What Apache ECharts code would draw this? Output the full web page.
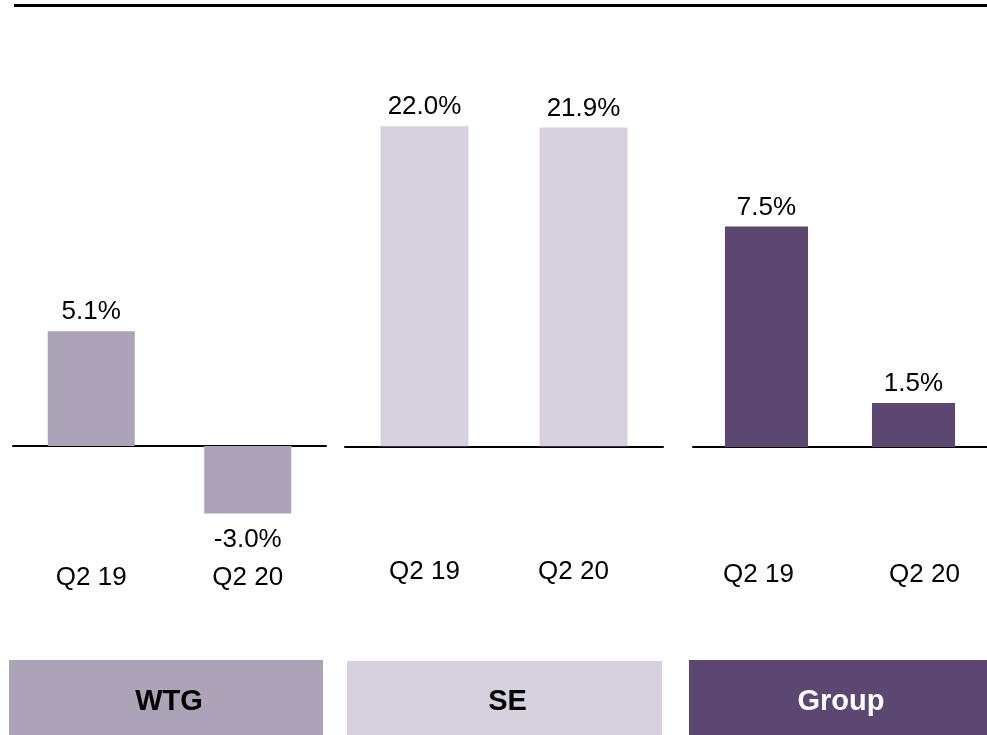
<!DOCTYPE html>
<html lang="en">
<head>
    <meta charset="UTF-8" />
    <title>WTG / SE / Group margins</title>
    <script src="https://cdn.jsdelivr.net/npm/echarts@6/dist/echarts.min.js"></script>
    <style>
        body { margin: 0; background: #fff; }
        #chart { width: 987px; height: 735px; }
    </style>
</head>
<body>
<div id="chart"></div>
<script>
    // data
    const categories = ['Q2 19', 'Q2 20'];
    const segmentNames = ['WTG', 'SE', 'Group'];
    const wtgValues = [5.1, -3.0];
    const seValues = [22.0, 21.9];
    const groupValues = [7.5, 1.5];

    const FONT = '"Liberation Sans", Arial, sans-serif';

    // one panel per segment, each with its own scale
    // (category labels sit below the grid bottom, margin counted from there)
    const panels = [
        { values: wtgValues, color: '#aca3b9', textColor: '#000', left: 13, width: 313, top: 108.5, height: 450, min: -5, max: 15,
          barWidth: 87, labelMargin: 6, labelShift: [0, 0], box: [9, 660, 314, 75] },
        { values: seValues, color: '#d7d1df', textColor: '#000', left: 345, width: 318, top: 82.5, height: 436.5, min: -5, max: 25,
          barWidth: 88, labelMargin: 40, labelShift: [0, -10], box: [347, 661, 315, 74] },
        { values: groupValues, color: '#5b4771', textColor: '#fff', left: 693, width: 294, top: 153, height: 382.2, min: -3, max: 10,
          barWidth: 83, labelMargin: 27, labelShift: [-8, 11], box: [689, 660, 298, 75] }
    ];

    const chart = echarts.init(document.getElementById('chart'));

    const option = {
        animation: false,
        grid: panels.map(p => ({ left: p.left, width: p.width, top: p.top, height: p.height })),
        xAxis: panels.map((p, i) => ({
            type: 'category',
            gridIndex: i,
            data: categories.map((c, j) => {
                const s = p.labelShift[j];
                return { value: c, textStyle: { padding: s < 0 ? [0, -2 * s, 0, 0] : [0, 0, 0, 2 * s] } };
            }),
            axisLine: { onZero: true, lineStyle: { color: '#000', width: 2 } },
            axisTick: { show: false },
            axisLabel: { margin: p.labelMargin, fontSize: 26, color: '#000', fontFamily: FONT }
        })),
        yAxis: panels.map((p, i) => ({
            type: 'value',
            gridIndex: i,
            min: p.min,
            max: p.max,
            show: false,
            splitLine: { show: false }
        })),
        series: panels.map((p, i) => ({
            type: 'bar',
            xAxisIndex: i,
            yAxisIndex: i,
            barWidth: p.barWidth,
            itemStyle: { color: p.color },
            data: p.values.map(v => ({
                value: v,
                label: { position: v < 0 ? 'bottom' : 'top', distance: v < 0 ? 13 : 6 }
            })),
            label: {
                show: true,
                fontSize: 26,
                color: '#000',
                fontFamily: FONT,
                formatter: d => d.value.toFixed(1) + '%'
            }
        })),
        graphic: [
            // heavy rule across the top
            { type: 'rect', shape: { x: 14, y: 4, width: 973, height: 3 }, style: { fill: '#000' } }
        ].concat(panels.map((p, i) => ({
            type: 'group',
            children: [
                { type: 'rect', shape: { x: p.box[0], y: p.box[1], width: p.box[2], height: p.box[3] }, style: { fill: p.color } },
                { type: 'text', x: p.box[0] + p.box[2] / 2 + 3, y: p.box[1] + p.box[3] / 2 + 4,
                  style: { text: segmentNames[i], fill: p.textColor, font: 'bold 29px ' + FONT, textAlign: 'center', textVerticalAlign: 'middle' } }
            ]
        })))
    };

    chart.setOption(option);
</script>
</body>
</html>
